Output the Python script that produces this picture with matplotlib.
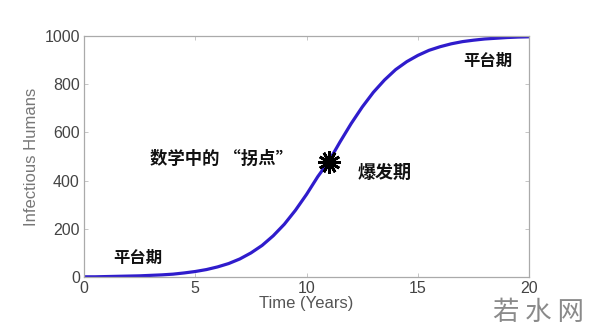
import matplotlib
matplotlib.use("Agg")
import matplotlib.pyplot as plt

plt.rcParams['font.family'] = ['Liberation Sans', 'Noto Sans CJK SC', 'DejaVu Sans']

# Data
years = [0, 0.5, 1, 1.5, 2, 2.5, 3, 3.5, 4, 4.5, 5, 5.5, 6, 6.5, 7, 7.5, 8, 8.5,
         9, 9.5, 10, 10.5, 11, 11.5, 12, 12.5, 13, 13.5, 14, 14.5, 15, 15.5,
         16, 16.5, 17, 17.5, 18, 18.5, 19, 19.5, 20]
infected = [1, 1, 2, 3, 4, 5, 7, 9, 12, 17, 23, 31, 42, 56, 75, 100, 131, 171,
            219, 277, 343, 416, 480, 560, 636, 705, 766, 817, 860, 893, 919, 940,
            955, 967, 976, 982, 987, 990, 993, 995, 996]
inflection_x = [11.0]
inflection_y = [478]
xticks = [0, 5, 10, 15, 20]
yticks = [0, 200, 400, 600, 800, 1000]

fig = plt.figure(figsize=(6, 3.35), dpi=100)
ax = fig.add_axes([0.14, 0.173, 0.742, 0.72])

ax.plot(years, infected, color='#2f1ccc', lw=2.3, solid_capstyle='butt')
ax.plot(inflection_x, inflection_y, linestyle='none', marker=(12, 2, 0),
        markersize=16, mew=2.0, color='black')

ax.set_xlim(0, 20)
ax.set_ylim(0, 1000)
ax.set_xticks(xticks)
ax.set_yticks(yticks)
ax.tick_params(direction='in', length=3, width=0.6, colors='#bbbbbb',
               labelcolor='#444444', labelsize=11.5, top=True, right=True, pad=3)
for s in ax.spines.values():
    s.set_color('#aaaaaa')
    s.set_linewidth(0.9)

ax.set_xlabel('Time (Years)', fontsize=12, color='#555555', labelpad=0)
ax.set_ylabel('Infectious Humans', fontsize=12, color='#777777', labelpad=4)

cjk = ['Noto Sans CJK SC', 'DejaVu Sans']
ax.text(1.3, 80, '平台期', fontsize=11.8, fontweight='bold', family=cjk,
        color='#111111', va='center', ha='left')
ax.text(17.05, 895, '平台期', fontsize=11.8, fontweight='bold', family=cjk,
        color='#111111', va='center', ha='left')
ax.text(2.95, 488, '数学中的 “拐点”', fontsize=12.5, fontweight='bold', family=cjk,
        color='#111111', va='center', ha='left')
ax.text(12.3, 432, '爆发期', fontsize=13, fontweight='bold', family=cjk,
        color='#111111', va='center', ha='left')

fig.text(0.897, 0.068, '若 水 网', fontsize=19, family=cjk, color='#8a8a8a',
         ha='center', va='center')

fig.savefig('out.png', dpi=100)
